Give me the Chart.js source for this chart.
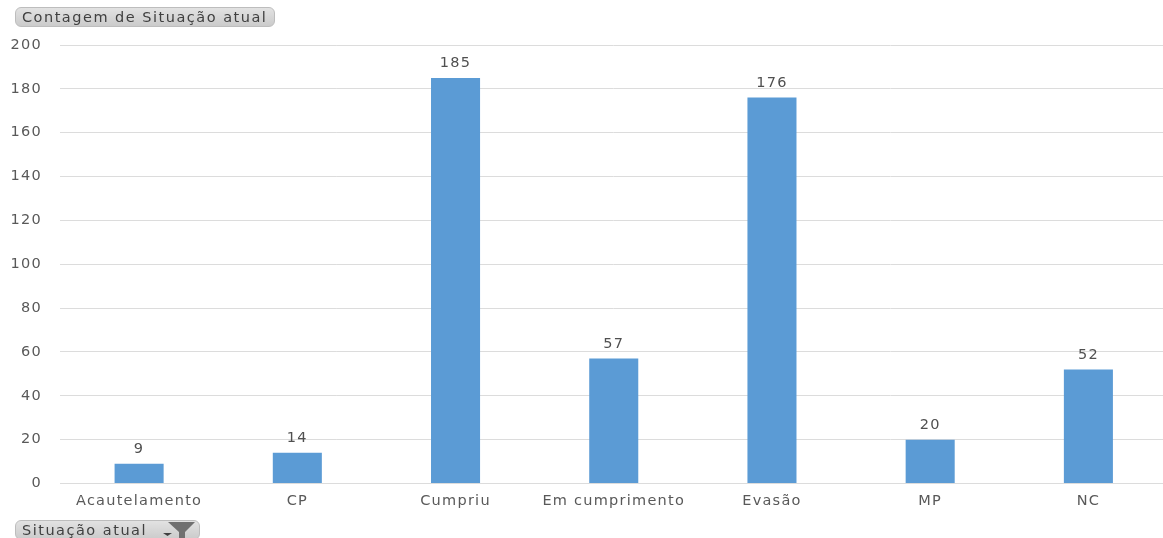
<!DOCTYPE html>
<html>
<head>
<meta charset="utf-8">
<script src="https://cdn.jsdelivr.net/npm/chart.js@4"></script>
<style>
  html, body { margin: 0; padding: 0; background: #fff; overflow: hidden; }
  #wrap { position: relative; width: 1163px; height: 538px; overflow: hidden; }
  canvas { position: absolute; left: 0; top: 0; }
  .btn {
    position: absolute; box-sizing: border-box; height: 20px;
    font: 14.5px/18px "DejaVu Sans", sans-serif; color: #404040; letter-spacing: 1.5px;
    background: linear-gradient(#e2e2e2, #cbcbcb); border: 1px solid #bdbdbd; border-radius: 6px;
    padding-left: 6px; white-space: nowrap;
  }
  #campo { left: 15px; top: 7px; width: 260px; }
  #filtro { left: 15px; top: 520px; width: 185px; }
  #filtro svg { position: absolute; left: 146px; top: 0; }
</style>
</head>
<body>
<div id="wrap">
  <canvas id="grafico" width="1170" height="538"></canvas>
  <div class="btn" id="campo">Contagem de Situação atual</div>
  <div class="btn" id="filtro">Situação atual
    <svg width="34" height="20" viewBox="0 0 34 20">
      <path d="M1 12h9l-4.5 3z" fill="#404040"/>
      <path d="M6 1h27l-10 10v9h-6v-9z" fill="#707070"/>
    </svg>
  </div>
</div>
<script>
const categorias = ["Acautelamento", "CP", "Cumpriu", "Em cumprimento", "Evasão", "MP", "NC"];
const valores = [9, 14, 185, 57, 176, 20, 52];
const fonte = "DejaVu Sans";

// a fonte do original e mais larga, entao abre o espaco entre as letras
const espacamento = {
  id: "espacamento",
  beforeDraw(chart) {
    chart.ctx.letterSpacing = "1.25px";
  }
};

// escreve o valor em cima de cada barra
const rotulos = {
  id: "rotulos",
  afterDatasetsDraw(chart) {
    const c = chart.ctx;
    c.save();
    c.font = "14.5px '" + fonte + "'";
    c.fillStyle = "#505050";
    c.textAlign = "center";
    c.textBaseline = "bottom";
    chart.getDatasetMeta(0).data.forEach((bar, i) => {
      c.fillText(valores[i], bar.x, bar.y - 7);
    });
    c.restore();
  }
};

new Chart(document.getElementById("grafico").getContext("2d"), {
  type: "bar",
  data: {
    labels: categorias,
    datasets: [{
      data: valores,
      backgroundColor: "#5b9bd5",
      categoryPercentage: 1,
      barPercentage: 0.31
    }]
  },
  options: {
    responsive: false,
    animation: false,
    layout: { padding: { top: 45, right: 2.5, left: 0, bottom: 0 } },
    plugins: { legend: { display: false }, title: { display: false }, tooltip: { enabled: false } },
    scales: {
      x: {
        afterFit(s) { s.height = 54.5; },
        grid: { display: false },
        border: { color: "#dcdcdc" },
        ticks: { color: "#595959", font: { family: fonte, size: 14.5 }, padding: 1, maxRotation: 0, autoSkip: false }
      },
      y: {
        min: 0,
        max: 200,
        afterFit(s) { s.width = 60; },
        grid: { color: "#dcdcdc", drawTicks: false },
        border: { display: false },
        ticks: { stepSize: 20, color: "#595959", font: { family: fonte, size: 14.5 }, padding: 18 }
      }
    }
  },
  plugins: [espacamento, rotulos]
});
</script>
</body>
</html>
